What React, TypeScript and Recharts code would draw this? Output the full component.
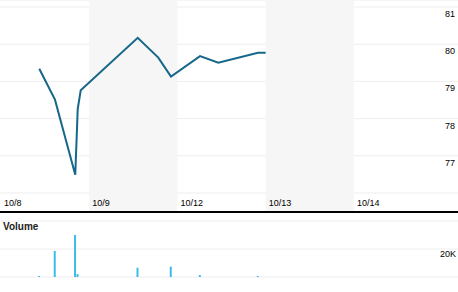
import React from "react";
import {
  ComposedChart,
  Line,
  Bar,
  XAxis,
  YAxis,
  CartesianGrid,
  ReferenceArea,
} from "recharts";

// ---- data ----
const dayLabels = ["10/8", "10/9", "10/12", "10/13", "10/14"];
const dayTicks = [0, 1, 2, 3, 4];
const shadedDays = [1, 3];
const times = [0.434, 0.612, 0.842, 0.87, 0.904, 1.55, 1.783, 1.927, 2.256, 2.463, 2.913, 3.0];
const prices = [79.34, 78.51, 76.49, 78.26, 78.76, 80.17, 79.64, 79.13, 79.68, 79.5, 79.77, 79.77];
const volumes = [700, 18600, 30000, 2100, 0, 6600, 0, 7400, 1400, 0, 700, 0];
const priceTicks = [76, 77, 78, 79, 80, 81];
const volumeTicks = [0, 20000];

// ---- layout ----
const W = 458;
const X_DOMAIN: [number, number] = [-0.011, 5.18];
const PRICE_DOMAIN: [number, number] = [75.489, 81.188];
const VOL_DOMAIN: [number, number] = [0, 40000];
const FONT = "'Liberation Sans', Arial, sans-serif";
const LINE_COLOR = "#17678a";
const BAR_COLOR = "#3dbbe9";
const GRID = "#eeeeee";

const data = times.map((t, i) => ({ t, price: prices[i], vol: volumes[i] }));

const PriceTick = (props: any) => {
  const v = props.payload.value;
  if (v === 76) return null;
  return (
    <text x={W - 3} y={props.y + 10} textAnchor="end" fontSize={9} fontFamily={FONT} fill="#000">
      {v}
    </text>
  );
};

const DayTick = (props: any) => {
  const idx = dayTicks.indexOf(props.payload.value);
  return (
    <text x={props.x + 3} y={206} textAnchor="start" fontSize={9} fontFamily={FONT} fill="#000">
      {dayLabels[idx]}
    </text>
  );
};

const VolTick = (props: any) => {
  const v = props.payload.value;
  if (v === 0) return null;
  return (
    <text x={W - 2} y={props.y + 8} textAnchor="end" fontSize={9} fontFamily={FONT} fill="#000">
      {v / 1000 + "K"}
    </text>
  );
};

export default function App() {
  return (
    <div style={{ position: "absolute", left: 0, top: 0, width: W, height: 292, background: "#fff" }}>
      <ComposedChart width={W} height={216} data={data} margin={{ top: 0, right: 0, bottom: 0, left: 0 }}>
        {shadedDays.map((d) => (
          <ReferenceArea key={d} x1={d} x2={d + 1} y1={PRICE_DOMAIN[0]} y2={PRICE_DOMAIN[1]} fill="#f6f6f6" fillOpacity={1} stroke="none" ifOverflow="hidden" />
        ))}
        <CartesianGrid vertical={false} stroke={GRID} />
        <XAxis
          dataKey="t"
          type="number"
          domain={X_DOMAIN}
          ticks={dayTicks}
          interval={0}
          tick={<DayTick />}
          tickLine={false}
          axisLine={{ stroke: "#000", strokeWidth: 2 }}
          height={4}
          allowDataOverflow
        />
        <YAxis
          orientation="right"
          mirror
          type="number"
          domain={PRICE_DOMAIN}
          ticks={priceTicks}
          interval={0}
          tick={<PriceTick />}
          width={30}
          axisLine={false}
          tickLine={false}
          allowDataOverflow
        />
        <Line
          dataKey="price"
          type="linear"
          stroke={LINE_COLOR}
          strokeWidth={2}
          dot={false}
          activeDot={false}
          isAnimationActive={false}
        />
      </ComposedChart>
      <div
        style={{
          position: "absolute",
          left: 3,
          top: 221,
          fontFamily: FONT,
          fontWeight: "bold",
          fontSize: 10,
          color: "#222",
          lineHeight: "12px",
        }}
      >
        Volume
      </div>
      <ComposedChart width={W} height={76} data={data} margin={{ top: 5, right: 0, bottom: 15, left: 0 }}>
        <CartesianGrid vertical={false} stroke={GRID} />
        <XAxis dataKey="t" type="number" domain={X_DOMAIN} hide allowDataOverflow />
        <YAxis
          orientation="right"
          mirror
          type="number"
          domain={VOL_DOMAIN}
          ticks={volumeTicks}
          interval={0}
          tick={<VolTick />}
          width={30}
          axisLine={false}
          tickLine={false}
        />
        <Bar dataKey="vol" fill={BAR_COLOR} barSize={2} isAnimationActive={false} />
      </ComposedChart>
    </div>
  );
}
